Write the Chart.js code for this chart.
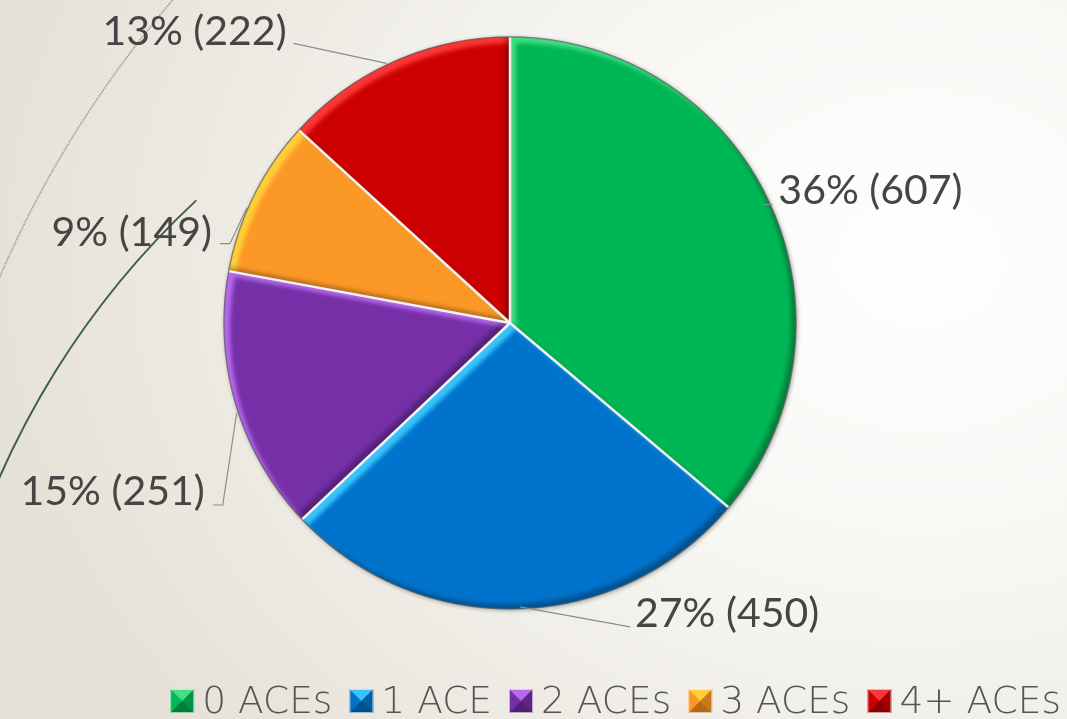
<!DOCTYPE html>
<html><head><meta charset="utf-8">
<script src="https://cdn.jsdelivr.net/npm/chart.js@4.4.0/dist/chart.umd.min.js"></script>
<style>
html,body{margin:0;padding:0;width:1067px;height:719px;overflow:hidden;}
body{background: radial-gradient(ellipse 950px 760px at 920px 260px, #fefefd 0%, #f8f7f4 40%, #eeebe4 72%, #e6e1d6 100%);}
canvas{display:block;}
</style></head><body>
<canvas id="c" width="1067" height="719"></canvas>
<script>
// ---- data ----
const categories = ['0 ACEs', '1 ACE', '2 ACEs', '3 ACEs', '4+ ACEs'];
const counts = [607, 450, 251, 149, 222];
const percents = [36, 27, 15, 9, 13];

// ---- styles ----
const colors = ['#00b755', '#0073cc', '#7530a8', '#fc9826', '#cc0000'];
const lights = ['rgba(90,235,150,0.75)', 'rgba(60,205,255,0.9)', 'rgba(200,120,255,0.8)', 'rgba(255,215,60,0.85)', 'rgba(255,60,60,0.9)'];
const labelLayout = [
  { pts: [[-6, 2], [3, 2]], align: 'left', tx: 6, ty: 0 },
  { pts: [[2, -2], [112, 18]], align: 'left', tx: 5, ty: 0 },
  { pts: [[1, 9], [-13, 101], [-23, 101]], align: 'right', tx: -8, ty: 0 },
  { pts: [[-7, 12], [-24, 48], [-34, 48]], align: 'right', tx: -8, ty: 2 },
  { pts: [[-8, 2], [-101, -18]], align: 'right', tx: -7, ty: 2 }
];
const LABEL_FONT = '400 41px Lato, "Open Sans", sans-serif';
const LEGEND_FONT = '200 37.5px "DejaVu Sans", Lato, sans-serif';

const decorPlugin = {
  id: 'decor',
  beforeDraw(chart) {
    const ctx = chart.ctx;
    ctx.save();
    // dark green arc
    ctx.beginPath();
    ctx.arc(767, 814, 838, -2.85, -2.32);
    ctx.strokeStyle = '#3f5f4b';
    ctx.lineWidth = 2;
    ctx.stroke();
    // fine dotted arc
    ctx.beginPath();
    ctx.arc(990, 703, 1078, -2.80, -2.25);
    ctx.strokeStyle = 'rgba(135,135,125,0.85)';
    ctx.lineWidth = 1.8;
    ctx.setLineDash([1.2, 1.2]);
    ctx.stroke();
    ctx.restore();
  },
  beforeDatasetsDraw(chart) {
    const ctx = chart.ctx;
    const arc = chart.getDatasetMeta(0).data[0];
    if (!arc) return;
    const { x, y, outerRadius } = arc.getProps(['x', 'y', 'outerRadius'], true);
    ctx.save();
    ctx.shadowColor = 'rgba(0,0,0,0.35)';
    ctx.shadowBlur = 4;
    ctx.shadowOffsetX = 1;
    ctx.shadowOffsetY = 1;
    ctx.beginPath();
    ctx.arc(x, y, outerRadius + 0.5, 0, Math.PI * 2);
    ctx.fillStyle = '#8a8a8a';
    ctx.fill();
    ctx.restore();
  },
  afterDatasetsDraw(chart) {
    const ctx = chart.ctx;
    const meta = chart.getDatasetMeta(0);
    meta.data.forEach((arc, i) => {
      const { x, y, startAngle, endAngle, outerRadius } = arc.getProps(['x', 'y', 'startAngle', 'endAngle', 'outerRadius'], true);
      const shape = (dx, dy) => { const p = new Path2D(); p.moveTo(x + dx, y + dy); p.arc(x + dx, y + dy, outerRadius, startAngle, endAngle); p.closePath(); return p; };
      const frame = (dx, dy) => { const p = new Path2D(); p.rect(-50, -50, 1200, 900); p.addPath(shape(dx, dy)); return p; };
      ctx.save();
      ctx.clip(shape(0, 0));
      ctx.filter = 'blur(2px)';
      ctx.fillStyle = lights[i];
      ctx.fill(frame(6, 6), 'evenodd');
      ctx.fillStyle = 'rgba(0,0,0,0.28)';
      ctx.fill(frame(-5, -5), 'evenodd');
      ctx.restore();
    });
    // separators
    meta.data.forEach((arc) => {
      const { x, y, startAngle, outerRadius } = arc.getProps(['x', 'y', 'startAngle', 'outerRadius'], true);
      ctx.save();
      ctx.beginPath();
      ctx.moveTo(x, y);
      ctx.lineTo(x + outerRadius * Math.cos(startAngle), y + outerRadius * Math.sin(startAngle));
      ctx.strokeStyle = '#f3f3f3';
      ctx.lineWidth = 2.5;
      ctx.stroke();
      ctx.restore();
    });
    const a0 = meta.data[0].getProps(['x', 'y', 'outerRadius'], true);
    ctx.save();
    ctx.beginPath();
    ctx.arc(a0.x, a0.y, a0.outerRadius, 0, Math.PI * 2);
    ctx.strokeStyle = 'rgba(95,95,95,0.55)';
    ctx.lineWidth = 1.5;
    ctx.stroke();
    ctx.restore();

    // data labels with leader lines
    meta.data.forEach((arc, i) => {
      const { x, y, startAngle, endAngle, outerRadius } = arc.getProps(['x', 'y', 'startAngle', 'endAngle', 'outerRadius'], true);
      const mid = (startAngle + endAngle) / 2;
      const px = x + outerRadius * Math.cos(mid), py = y + outerRadius * Math.sin(mid);
      const L = labelLayout[i];
      ctx.save();
      ctx.beginPath();
      L.pts.forEach((p, k) => { const X = px + p[0], Y = py + p[1]; if (k === 0) ctx.moveTo(X, Y); else ctx.lineTo(X, Y); });
      ctx.strokeStyle = '#8c8c8c';
      ctx.lineWidth = 1.2;
      ctx.stroke();
      const end = L.pts[L.pts.length - 1];
      ctx.font = LABEL_FONT;
      ctx.fillStyle = '#454545';
      ctx.textAlign = L.align;
      ctx.textBaseline = 'alphabetic';
      ctx.fillText(percents[i] + '% (' + counts[i] + ')', px + end[0] + L.tx, py + end[1] + L.ty);
      ctx.restore();
    });
  },
  afterDraw(chart) {
    // legend
    const ctx = chart.ctx;
    ctx.save();
    ctx.font = LEGEND_FONT;
    const box = 24, gapText = 8, gapItem = 17;
    const widths = categories.map(c => ctx.measureText(c).width);
    let total = 0;
    widths.forEach((w, i) => { total += box + gapText + w + (i < widths.length - 1 ? gapItem : 0); });
    let cx = 1061 - total;
    const baseY = 713, top = 689;
    categories.forEach((c, i) => {
      const bx = cx, by = top;
      ctx.fillStyle = colors[i];
      ctx.fillRect(bx, by, box, box);
      const cxm = bx + box / 2, cym = by + box / 2;
      ctx.beginPath(); ctx.moveTo(bx, by); ctx.lineTo(bx + box, by); ctx.lineTo(cxm, cym); ctx.closePath();
      ctx.fillStyle = lights[i]; ctx.fill();
      ctx.beginPath(); ctx.moveTo(bx + box, by); ctx.lineTo(bx + box, by + box); ctx.lineTo(cxm, cym); ctx.closePath();
      ctx.fillStyle = 'rgba(0,0,0,0.2)'; ctx.fill();
      ctx.beginPath(); ctx.moveTo(bx, by + box); ctx.lineTo(bx + box, by + box); ctx.lineTo(cxm, cym); ctx.closePath();
      ctx.fillStyle = 'rgba(0,0,0,0.3)'; ctx.fill();
      ctx.strokeStyle = 'rgba(255,255,255,0.6)';
      ctx.lineWidth = 1;
      ctx.strokeRect(bx + 0.5, by + 0.5, box - 1, box - 1);
      ctx.fillStyle = '#555555';
      ctx.textAlign = 'left';
      ctx.textBaseline = 'alphabetic';
      ctx.fillText(c, bx + box + gapText, baseY);
      cx += box + gapText + widths[i] + gapItem;
    });
    ctx.restore();
  }
};

new Chart(document.getElementById('c'), {
  type: 'pie',
  data: {
    labels: categories,
    datasets: [{ data: counts, backgroundColor: colors, borderWidth: 0 }]
  },
  options: {
    responsive: false,
    animation: false,
    layout: { padding: { left: 224, right: 271, top: 37, bottom: 110 } },
    plugins: { legend: { display: false }, tooltip: { enabled: false } }
  },
  plugins: [decorPlugin]
});
</script>
</body></html>
